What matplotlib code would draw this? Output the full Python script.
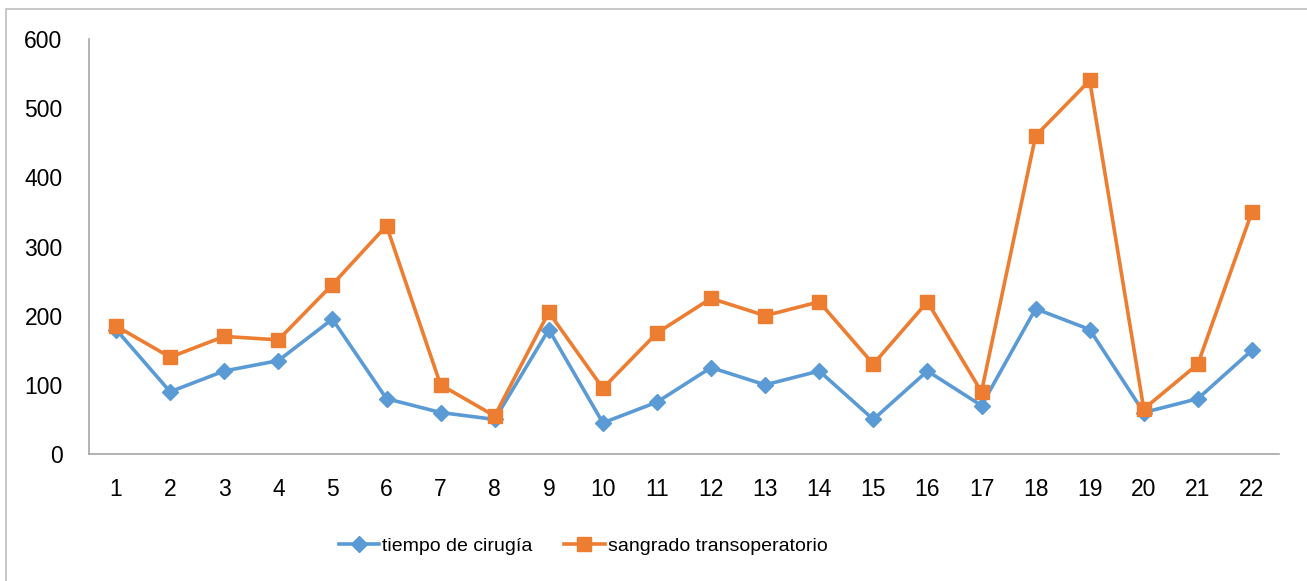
import numpy as np
import matplotlib
matplotlib.use("Agg")
import matplotlib.pyplot as plt
from matplotlib.patches import Rectangle

casos = list(range(1, 23))
tiempo_cirugia = [180, 90, 120, 135, 195, 80, 60, 50, 180, 45, 75,
                  125, 100, 120, 50, 120, 70, 210, 180, 60, 80, 150]
sangrado = [185, 140, 170, 165, 245, 330, 100, 55, 205, 95, 175,
            225, 200, 220, 130, 220, 90, 460, 540, 65, 130, 350]
y_ticks = [0, 100, 200, 300, 400, 500, 600]

plt.rcParams.update({"font.family": ["Liberation Sans", "DejaVu Sans"],
                     "font.size": 16.5})

fig = plt.figure(figsize=(13.07, 5.81), dpi=100)
ax = fig.add_axes([89 / 1307, 1 - 454 / 581, 1190 / 1307, 415 / 581])

ax.plot(casos, tiempo_cirugia, "-D", color="#5B9BD5", lw=2.6, ms=8,
        label="tiempo de cirugía")
ax.plot(casos, sangrado, "-s", color="#ED7D31", lw=2.6, ms=10,
        label="sangrado transoperatorio")

ax.set_xlim(0.5, 22.5)
ax.set_ylim(0, 600)
ax.set_xticks(casos)
ax.set_yticks(y_ticks)
ax.tick_params(axis="x", length=0, pad=17)
ax.tick_params(axis="y", length=0, pad=19)
for side in ("top", "right"):
    ax.spines[side].set_visible(False)
for side in ("left", "bottom"):
    ax.spines[side].set_color("#A6A6A6")
    ax.spines[side].set_linewidth(1.2)

fig.legend(loc="center", bbox_to_anchor=(0.446, 1 - 546 / 581), ncol=2,
           frameon=False, fontsize=14, handlelength=2.1, handletextpad=0.15,
           columnspacing=1.6)

fig.patches.append(Rectangle((6 / 1307, -0.05), 1.1, 1.05 - 9 / 581,
                             transform=fig.transFigure, fill=False,
                             edgecolor="#BFBFBF", lw=1.2))

fig.savefig("out.png", dpi=100)
